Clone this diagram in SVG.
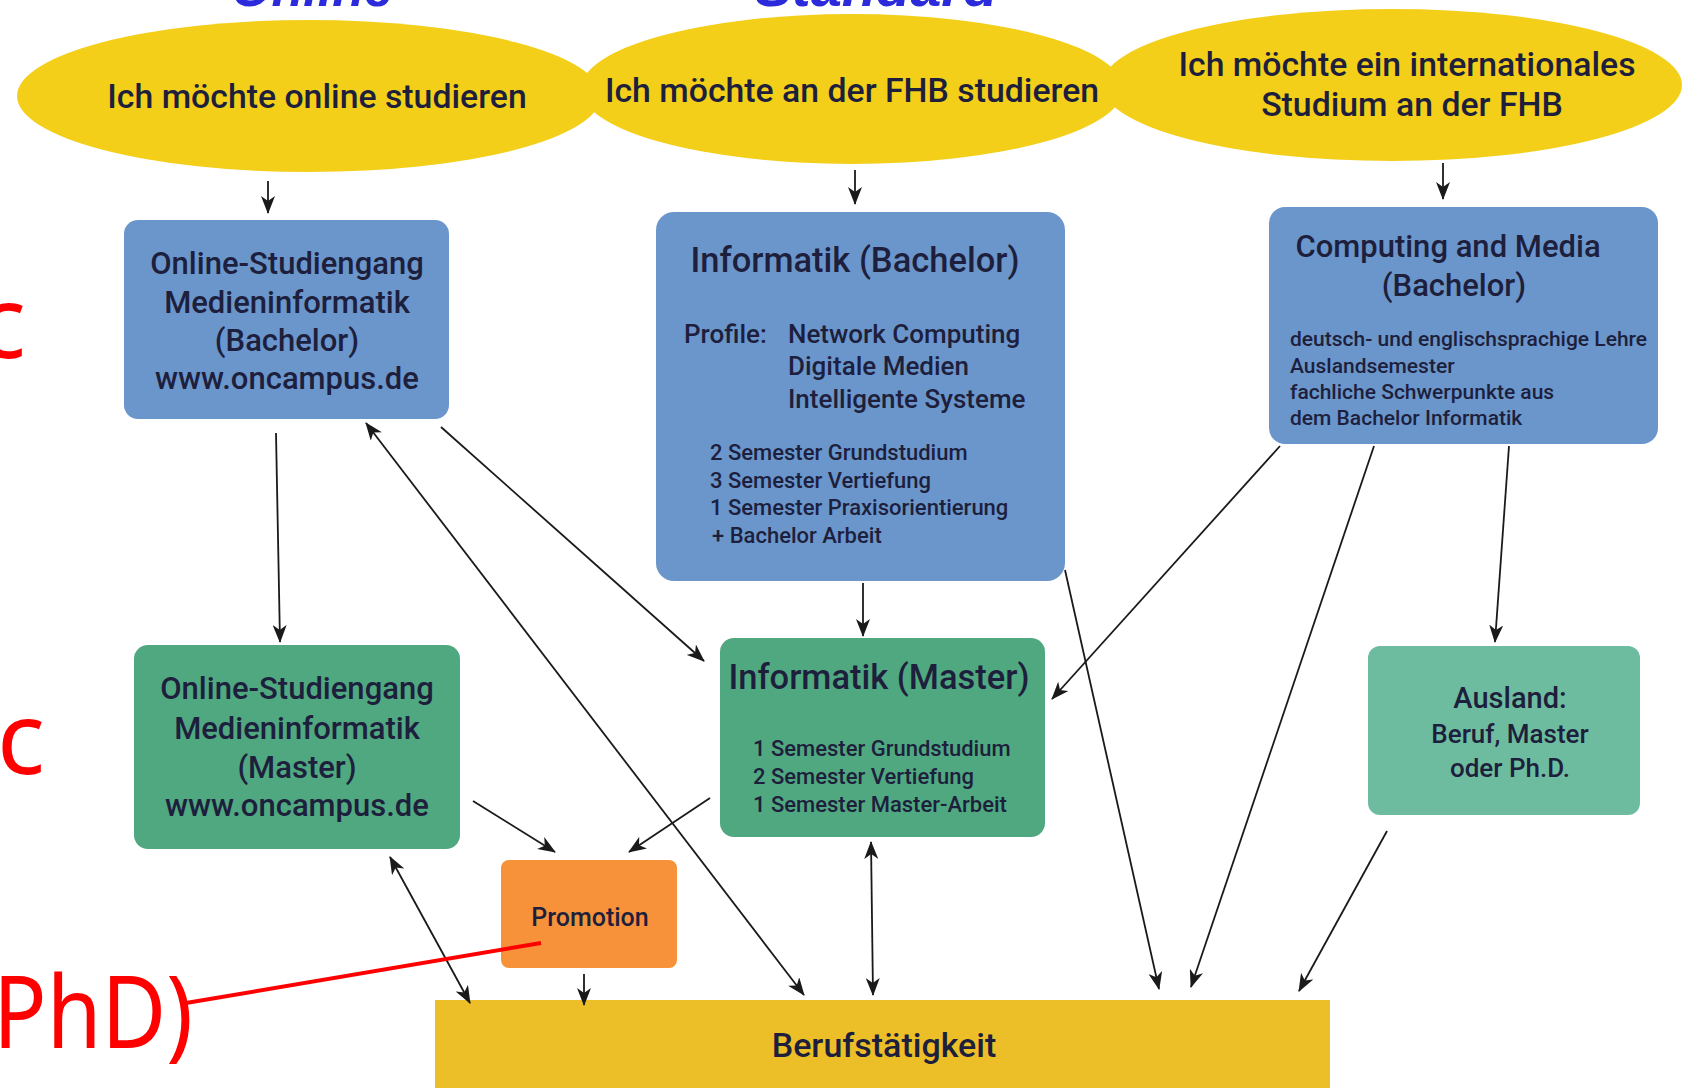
<svg xmlns="http://www.w3.org/2000/svg" width="1686" height="1088" viewBox="0 0 1686 1088">
<style>
.t{font-family:Roboto,"Liberation Sans",sans-serif;font-weight:500;fill:#1d1f3c}
.c{text-anchor:middle}
.blue{fill:#6b96cc}
.green{fill:#50a880}
.teal{fill:#6ebca0}
.conn line{stroke:#1a1a1a;stroke-width:1.8;fill:none}
.red{font-family:"Noto Sans","DejaVu Sans",sans-serif;fill:#ff0000;font-size:100px}
.top{font-family:"Liberation Sans",Arial,sans-serif;font-weight:700;font-style:italic;fill:#2b2bdc}
</style>
<defs>
<marker id="ah" markerWidth="18" markerHeight="14" refX="17" refY="7" orient="auto-start-reverse" markerUnits="userSpaceOnUse">
<path d="M0,0 L18,7 L0,14 L5,7 z" fill="#1a1a1a"/>
</marker>
</defs>
<rect width="1686" height="1088" fill="#ffffff"/>
<text class="top c" x="312" y="6" font-size="52">Online</text>
<text class="top c" x="876" y="6" font-size="56">Standard</text>
<g id="choices">
<ellipse cx="309" cy="96" rx="292" ry="76" fill="#f3cf1a"/>
<ellipse cx="852" cy="89" rx="271" ry="75" fill="#f3cf1a"/>
<ellipse cx="1392" cy="85" rx="290" ry="76" fill="#f3cf1a"/>
<text class="t c" x="317" y="108" font-size="33.8">Ich möchte online studieren</text>
<text class="t c" x="852" y="102" font-size="33.8">Ich möchte an der FHB studieren</text>
<text class="t c" x="1407" y="76" font-size="33.8">Ich möchte ein internationales</text>
<text class="t c" x="1412" y="116" font-size="33.8">Studium an der FHB</text>
</g>
<g id="online-bachelor">
<rect class="blue" x="124" y="220" width="325" height="199" rx="14"/>
<text class="t c" x="287" y="274" font-size="31">Online-Studiengang</text>
<text class="t c" x="287" y="313" font-size="31">Medieninformatik</text>
<text class="t c" x="287" y="351" font-size="31">(Bachelor)</text>
<text class="t c" x="287" y="389" font-size="31">www.oncampus.de</text>
</g>
<g id="informatik-bachelor">
<rect class="blue" x="656" y="212" width="409" height="369" rx="18"/>
<text class="t c" x="855" y="272" font-size="34.5">Informatik (Bachelor)</text>
<text class="t" x="684" y="343" font-size="26">Profile:</text>
<text class="t" x="788" y="343" font-size="26">Network Computing</text>
<text class="t" x="788" y="375" font-size="26">Digitale Medien</text>
<text class="t" x="788" y="408" font-size="26">Intelligente Systeme</text>
<text class="t" x="710" y="460" font-size="22">2 Semester Grundstudium</text>
<text class="t" x="710" y="488" font-size="22">3 Semester Vertiefung</text>
<text class="t" x="710" y="515" font-size="22">1 Semester Praxisorientierung</text>
<text class="t" x="712" y="543" font-size="22">+ Bachelor Arbeit</text>
</g>
<g id="computing-media">
<rect class="blue" x="1269" y="207" width="389" height="237" rx="16"/>
<text class="t c" x="1448" y="257" font-size="31">Computing and Media</text>
<text class="t c" x="1454" y="296" font-size="31">(Bachelor)</text>
<text class="t" x="1290" y="346" font-size="21">deutsch- und englischsprachige Lehre</text>
<text class="t" x="1290" y="373" font-size="21">Auslandsemester</text>
<text class="t" x="1290" y="399" font-size="21">fachliche Schwerpunkte aus</text>
<text class="t" x="1290" y="425" font-size="21">dem Bachelor Informatik</text>
</g>
<g id="online-master">
<rect class="green" x="134" y="645" width="326" height="204" rx="14"/>
<text class="t c" x="297" y="699" font-size="31">Online-Studiengang</text>
<text class="t c" x="297" y="739" font-size="31">Medieninformatik</text>
<text class="t c" x="297" y="778" font-size="31">(Master)</text>
<text class="t c" x="297" y="816" font-size="31">www.oncampus.de</text>
</g>
<g id="informatik-master">
<rect class="green" x="720" y="638" width="325" height="199" rx="14"/>
<text class="t c" x="879" y="689" font-size="34.5">Informatik (Master)</text>
<text class="t" x="753" y="756" font-size="22">1 Semester Grundstudium</text>
<text class="t" x="753" y="784" font-size="22">2 Semester Vertiefung</text>
<text class="t" x="753" y="812" font-size="22">1 Semester Master-Arbeit</text>
</g>
<g id="ausland">
<rect class="teal" x="1368" y="646" width="272" height="169" rx="12"/>
<text class="t c" x="1510" y="708" font-size="29">Ausland:</text>
<text class="t c" x="1510" y="743" font-size="26">Beruf, Master</text>
<text class="t c" x="1510" y="777" font-size="26">oder Ph.D.</text>
</g>
<g id="promotion">
<rect x="501" y="860" width="176" height="108" rx="8" fill="#f7923a"/>
<text class="t c" x="590" y="926" font-size="25">Promotion</text>
</g>
<g id="beruf">
<rect x="435" y="1000" width="895" height="100" fill="#ecbe28"/>
<text class="t c" x="884" y="1057" font-size="34">Berufstätigkeit</text>
</g>
<g id="connectors" class="conn">
<line x1="268" y1="181" x2="268" y2="213" marker-end="url(#ah)"/>
<line x1="855" y1="170" x2="855" y2="204" marker-end="url(#ah)"/>
<line x1="1443" y1="163" x2="1443" y2="199" marker-end="url(#ah)"/>
<line x1="276" y1="433" x2="280" y2="642" marker-end="url(#ah)"/>
<line x1="366" y1="423" x2="804" y2="995" marker-start="url(#ah)" marker-end="url(#ah)"/>
<line x1="441" y1="427" x2="704" y2="661" marker-end="url(#ah)"/>
<line x1="863" y1="583" x2="863" y2="636" marker-end="url(#ah)"/>
<line x1="1065" y1="570" x2="1159" y2="989" marker-end="url(#ah)"/>
<line x1="1280" y1="446" x2="1052" y2="699" marker-end="url(#ah)"/>
<line x1="1374" y1="446" x2="1191" y2="987" marker-end="url(#ah)"/>
<line x1="1509" y1="446" x2="1495" y2="642" marker-end="url(#ah)"/>
<line x1="1387" y1="831" x2="1299" y2="991" marker-end="url(#ah)"/>
<line x1="473" y1="801" x2="555" y2="852" marker-end="url(#ah)"/>
<line x1="710" y1="798" x2="629" y2="852" marker-end="url(#ah)"/>
<line x1="390" y1="857" x2="470" y2="1003" marker-start="url(#ah)" marker-end="url(#ah)"/>
<line x1="584" y1="974" x2="584" y2="1005" marker-end="url(#ah)"/>
<line x1="871" y1="842" x2="873" y2="995" marker-start="url(#ah)" marker-end="url(#ah)"/>
</g>
<g id="annotations">
<text class="red" x="26" y="358" text-anchor="end">BSc</text>
<text class="red" x="45" y="774" text-anchor="end">MSc</text>
<text class="red" x="-7" y="1048" font-size="94" textLength="200" lengthAdjust="spacingAndGlyphs">PhD)</text>
<line x1="186" y1="1003" x2="541" y2="943" stroke="#ff0000" stroke-width="4"/>
</g>
</svg>
